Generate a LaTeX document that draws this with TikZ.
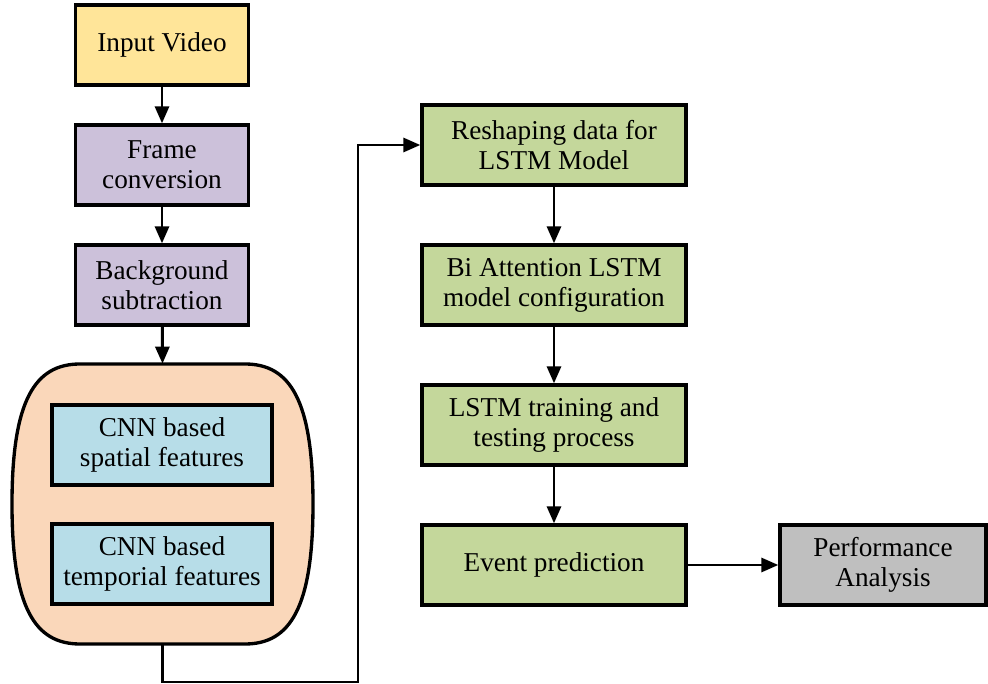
\documentclass[tikz,border=0pt]{standalone}
\usepackage{fontspec}
\setmainfont{Liberation Serif}
\usetikzlibrary{arrows.meta,positioning}
\definecolor{Video}{RGB}{255,229,153}
\definecolor{Prep}{RGB}{204,193,218}
\definecolor{Feat}{RGB}{250,215,186}
\definecolor{Cnn}{RGB}{183,221,232}
\definecolor{Lstm}{RGB}{196,215,155}
\definecolor{Perf}{RGB}{191,191,191}

\begin{document}
\begin{tikzpicture}[x=0.2mm,y=-0.2mm,
  box/.style={draw,line width=1.9pt,align=center,minimum height=16mm,inner sep=2pt,
    font=\fontsize{15.5}{17}\selectfont},
  flow/.style={line width=1.7pt,-{Triangle[length=3.4mm,width=2.8mm]}}]
  \useasboundingbox (0,0) rectangle (988,684);
  \draw[line width=1.9pt,fill=Feat] (80,364) -- (245,364)
    .. controls (290,364) and (313,400) .. (313,504)
    .. controls (313,608) and (290,644) .. (245,644) -- (80,644)
    .. controls (35,644) and (12,608) .. (12,504)
    .. controls (12,400) and (35,364) .. cycle;
  \node[minimum width=60.2mm,minimum height=56mm] (feat) at (162.5,504) {};
  \node[box,fill=Video,minimum width=34.6mm] (video) at (162,45) {Input Video};
  \node[box,fill=Prep,minimum width=34.6mm] (frame) at (162,165) {Frame\\conversion};
  \node[box,fill=Prep,minimum width=34.6mm] (bgsub) at (162,285) {Background\\subtraction};
  \node[box,fill=Cnn,minimum width=44mm] (spatial) at (162,445) {CNN based\\spatial features};
  \node[box,fill=Cnn,minimum width=44mm] (temporal) at (162,564) {CNN based\\temporial features};
  \node[box,fill=Lstm,minimum width=52.8mm] (reshape) at (554,145) {Reshaping data for\\LSTM Model};
  \node[box,fill=Lstm,minimum width=52.8mm] (biatt) at (554,285) {Bi Attention LSTM\\model configuration};
  \node[box,fill=Lstm,minimum width=52.8mm] (train) at (554,425) {LSTM training and\\testing process};
  \node[box,fill=Lstm,minimum width=52.8mm] (event) at (554,565) {Event prediction};
  \node[box,fill=Perf,minimum width=41.2mm] (perf) at (883,565) {Performance\\Analysis};
  \coordinate (turn) at (358,682);
  \draw[flow] (video) -- (frame);
  \draw[flow] (frame) -- (bgsub);
  \draw[flow] (bgsub) -- (feat.north);
  \draw[flow] (feat.south) |- (turn) |- (reshape.west);
  \draw[flow] (reshape) -- (biatt);
  \draw[flow] (biatt) -- (train);
  \draw[flow] (train) -- (event);
  \draw[flow] (event) -- (perf);
\end{tikzpicture}
\end{document}
